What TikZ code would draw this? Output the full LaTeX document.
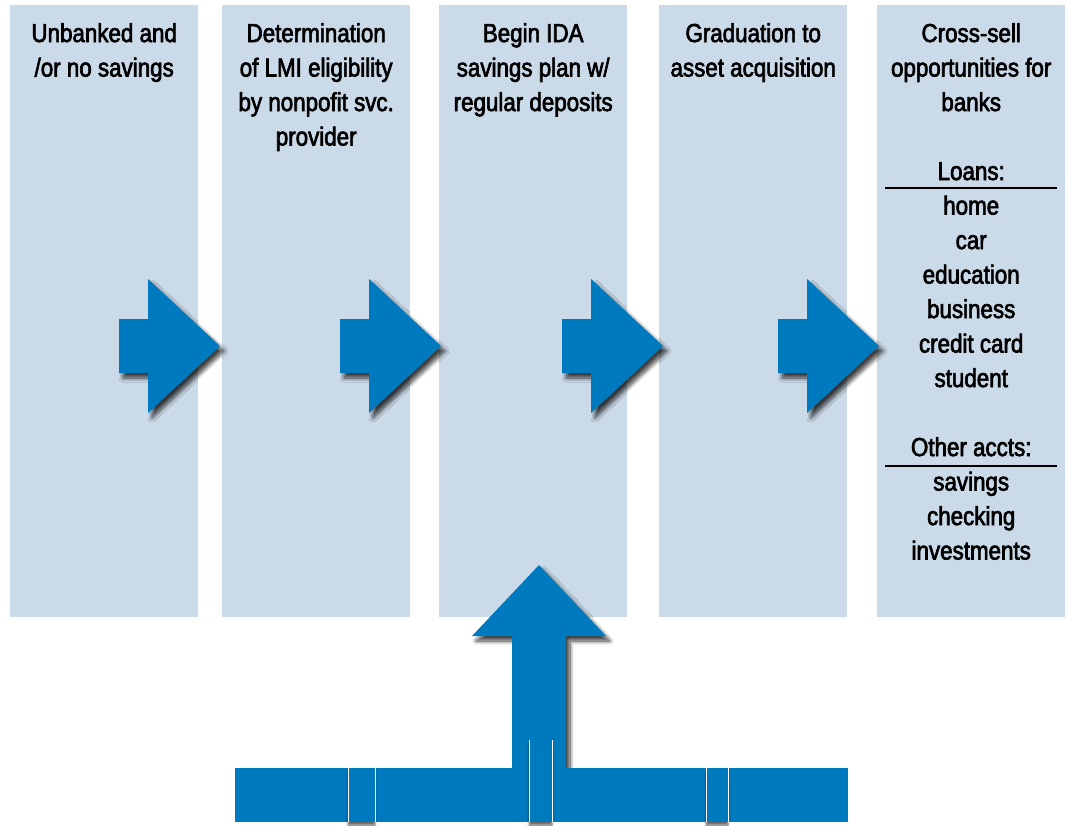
\documentclass[tikz,border=0pt]{standalone}
\usepackage{fontspec}
\setmainfont[FakeStretch=0.86,FakeBold=2.5]{Liberation Sans}
\usetikzlibrary{shadows.blur}
\definecolor{idablue}{RGB}{0,122,190}
\definecolor{colfill}{RGB}{203,218,232}
\tikzset{
  column/.style={fill=colfill, draw=none, minimum width=188pt, minimum height=612pt,
    inner sep=0pt, anchor=north west},
  coltext/.style={anchor=north, align=center, inner sep=0pt,
    font=\fontsize{26}{34.5}\selectfont},
  blockarrow/.style={fill=idablue, draw=none,
    blur shadow={shadow xshift=4pt, shadow yshift=-5pt, shadow blur steps=8,
      shadow blur radius=4pt, shadow opacity=75}},
  barpiece/.style={fill=idablue, draw=none,
    blur shadow={shadow xshift=0pt, shadow yshift=-3pt, shadow blur steps=3, shadow opacity=60}},
  listrule/.style={line width=1.6pt}
}
\begin{document}
\begin{tikzpicture}[x=1pt,y=-1pt]
\useasboundingbox (0,0) rectangle (1067,825);

% columns
\node[column] (c1) at (10,5) {};
\node[column] (c2) at (222,5) {};
\node[column] (c3) at (439,5) {};
\node[column] (c4) at (659,5) {};
\node[column] (c5) at (877,5) {};

% column texts
\node[coltext] (t1) at (c1.north |- 0,23) {Unbanked and\\/or no savings};
\node[coltext] (t2) at (c2.north |- 0,23) {Determination\\of LMI eligibility\\by nonpofit svc.\\provider};
\node[coltext] (t3) at (c3.north |- 0,23) {Begin IDA\\savings plan w/\\regular deposits};
\node[coltext] (t4) at (c4.north |- 0,23) {Graduation to\\asset acquisition};
\node[coltext] (t5) at (c5.north |- 0,23) {Cross-sell\\opportunities for\\banks\\~\\Loans:\\home\\car\\education\\business\\credit card\\student\\~\\Other accts:\\savings\\checking\\investments};

\draw[listrule] (885,188) -- (1057,188);
\draw[listrule] (885,466) -- (1057,466);

% arrows between the columns
\foreach \dx in {0,221,443,659}
  \fill[blockarrow, shift={(\dx,0)}] (119,319) -- (148,319) -- (148,279) -- (220,346)
    -- (148,413) -- (148,373) -- (119,373) -- cycle;

% arrow from below
\fill[blockarrow] (512,768) -- (512,636) -- (472,636) -- (539,565) -- (606,636)
  -- (566,636) -- (566,768) -- cycle;

% bar
\fill[idablue] (235,768) rectangle (848,822);
\foreach \a/\b/\t in {348/375/768, 529/552/740, 706/728/768} {
  \fill[barpiece] (\a,\t) rectangle (\b,822);
  \draw[white, line width=0.8pt] (\a,\t) -- (\a,822) (\b,\t) -- (\b,822);
}
\end{tikzpicture}
\end{document}
